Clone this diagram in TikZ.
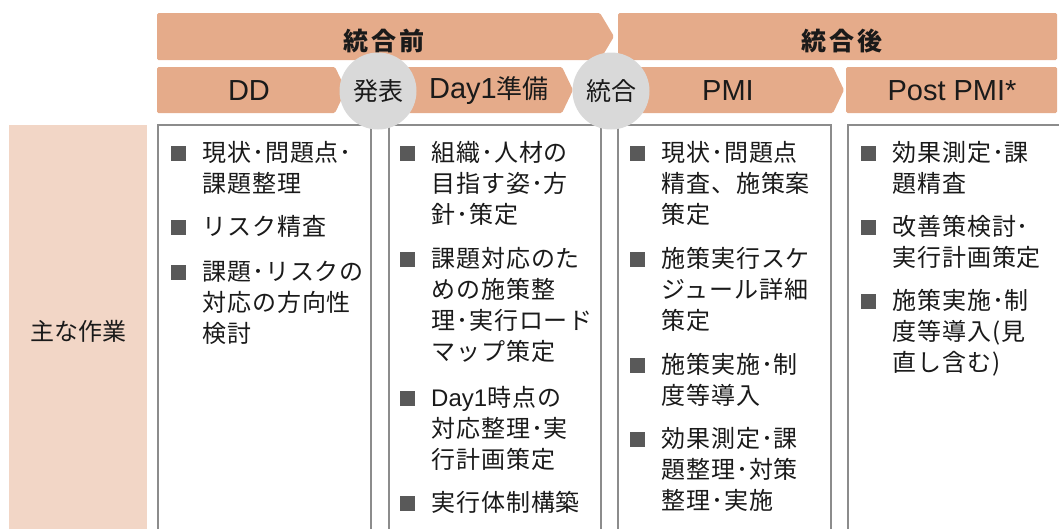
\documentclass[tikz,border=0pt]{standalone}
\usepackage{fontspec}
\setmainfont{Noto Sans CJK JP}
\newfontfamily\lat{Liberation Sans}
\newfontfamily\jpls[LetterSpace=4]{Noto Sans CJK JP}
\newfontfamily\jphd[LetterSpace=13]{Noto Sans CJK JP}
\definecolor{bandc}{HTML}{E5AB8A}
\definecolor{labelc}{HTML}{F2D6C6}
\definecolor{circc}{HTML}{D9D9D9}
\definecolor{framec}{HTML}{8C8C8C}
\definecolor{bulc}{HTML}{595959}
\definecolor{txtc}{HTML}{1A1A1A}
\tikzset{
  band/.style={fill=bandc, draw=none, rounded corners=1.5pt},
  hdrtxt/.style={inner sep=0, text=txtc, font=\jphd\bfseries\fontsize{25}{25}\selectfont},
  phtxt/.style={inner sep=0, text=txtc, font=\fontsize{26}{26}\selectfont},
  phase/.style={circle, fill=circc, draw=none, minimum size=77pt, inner sep=0, text=txtc, font=\fontsize{25}{25}\selectfont},
  frame/.style={draw=framec, line width=1.6pt},
  bul/.style={fill=bulc, draw=none, minimum size=15pt, inner sep=0},
  ln/.style={anchor=west, inner sep=0, text=txtc, text height=19pt, text depth=1pt, font=\jpls\fontsize{24}{31}\selectfont},
}
\newcommand\bitem[4]{%
  \node[bul] (#1b) at (#2-24,#3+1) {};
  \foreach \t [count=\i from 0] in {#4} {\node[ln] (#1l\i) at (#2,#3+31*\i) {\t};}
}
\begin{document}
\begin{tikzpicture}[x=1pt,y=-1pt]
\useasboundingbox (0,0) rectangle (1059,528);
\clip (0,0) rectangle (1059,528);
% header bands
\fill[band] (157,13) -- (600,13) -- (614,36.5) -- (600,60) -- (157,60) -- cycle;
\fill[band] (618,13) rectangle (1057,60);
\node[hdrtxt] (pre) at (384,41) {統合前};
\node[hdrtxt] (post) at (842,41) {統合後};
% phase bands
\fill[band] (157,67) -- (335,67) -- (346,90) -- (335,113) -- (157,113) -- cycle;
\fill[band] (350,67) -- (562,67) -- (573,90) -- (562,113) -- (350,113) -- (361,90) -- cycle;
\fill[band] (600,67) -- (833,67) -- (844,90) -- (833,113) -- (600,113) -- (611,90) -- cycle;
\fill[band] (846,67) rectangle (1057,113);
\node[phtxt] (dd) at (249,91) {\lat\fontsize{29}{29}\selectfont DD};
\node[phtxt] (day1) at (489,91) {{\lat\fontsize{29}{29}\selectfont Day1}準備};
\node[phtxt] (pmi) at (728,91) {\lat\fontsize{29}{29}\selectfont PMI};
\node[phtxt] (ppmi) at (952,91) {\lat\fontsize{29}{29}\selectfont Post PMI*};
% label column
\fill[labelc] (9,125) rectangle (147,540);
\node[inner sep=0, text=txtc, font=\fontsize{24}{24}\selectfont] (lab) at (78,331) {主な作業};
% frames
\draw[frame] (158,125) rectangle (371,545);
\draw[frame] (389,125) rectangle (601,545);
\draw[frame] (618,125) rectangle (831,545);
\draw[frame] (848,125) rectangle (1075,545);
% column 1
\bitem{a1}{202}{152}{現状･問題点･,課題整理}
\bitem{a2}{202}{226}{リスク精査}
\bitem{a3}{202}{271}{課題･リスクの,対応の方向性,検討}
% column 2
\bitem{b1}{431}{152}{組織･人材の,目指す姿･方,針･策定}
\bitem{b2}{431}{258}{課題対応のた,めの施策整,理･実行ロード,マップ策定}
\bitem{b3}{431}{397}{{\lat Day1}時点の,対応整理･実,行計画策定}
\bitem{b4}{431}{502}{実行体制構築}
% column 3
\bitem{c1}{661}{152}{現状･問題点,精査、施策案,策定}
\bitem{c2}{661}{258}{施策実行スケ,ジュール詳細,策定}
\bitem{c3}{661}{364}{施策実施･制,度等導入}
\bitem{c4}{661}{438}{効果測定･課,題整理･対策,整理･実施}
% column 4
\bitem{d1}{892}{152}{効果測定･課,題精査}
\bitem{d2}{892}{226}{改善策検討･,実行計画策定}
\bitem{d3}{892}{300}{施策実施･制,度等導入(見,直し含む)}
% milestone circles
\node[phase] (happyo) at (378,91) {発表};
\node[phase] (tougou) at (611,91) {統合};
\end{tikzpicture}
\end{document}
